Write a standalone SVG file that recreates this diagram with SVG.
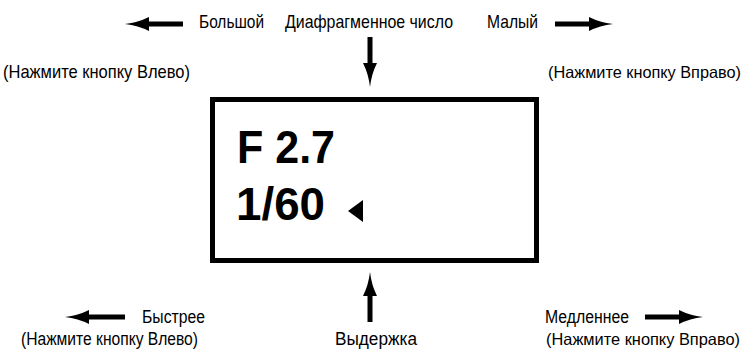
<svg xmlns="http://www.w3.org/2000/svg" width="745" height="351" viewBox="0 0 745 351">
  <style>
    .lbl { font-family: "Liberation Sans", Arial, sans-serif; font-size: 18.5px; fill: #000; }
    .lbl2 { font-family: "Liberation Sans", Arial, sans-serif; font-size: 17.5px; fill: #000; }
    .rt { font-family: "Liberation Sans", Arial, sans-serif; font-size: 16.5px; fill: #000; text-anchor: end; }
    .big { font-family: "Liberation Sans", Arial, sans-serif; font-size: 46px; font-weight: bold; fill: #000; }
    .arr { stroke: #000; stroke-width: 5; fill: none; marker-end: url(#head); }
  </style>
  <defs>
    <marker id="head" viewBox="0 0 24 14" markerUnits="userSpaceOnUse" markerWidth="24" markerHeight="14" refX="3" refY="7" orient="auto">
      <path d="M0,0 Q11,5.5 24,7 Q11,8.5 0,14 Z" fill="#000"/>
    </marker>
  </defs>
  <rect width="745" height="351" fill="#fff"/>

  <g id="connectors">
    <line class="arr" x1="183" y1="24" x2="146" y2="24"/>
    <line class="arr" x1="555" y1="24" x2="592" y2="24"/>
    <line class="arr" x1="370" y1="37" x2="370" y2="66"/>
    <line class="arr" x1="370" y1="322" x2="370" y2="293"/>
    <line class="arr" x1="125" y1="317" x2="86" y2="317"/>
    <line class="arr" x1="645" y1="317" x2="682" y2="317"/>
  </g>

  <g id="display">
    <rect x="212.5" y="99.5" width="324" height="161" fill="none" stroke="#000" stroke-width="5"/>
    <text class="big" x="237" y="163" textLength="98" lengthAdjust="spacingAndGlyphs">F 2.7</text>
    <text class="big" x="236" y="220" textLength="89" lengthAdjust="spacingAndGlyphs">1/60</text>
    <path d="M348,211 L363,200 L363,222 Z" fill="#000"/>
  </g>

  <g id="top-left">
    <text class="lbl" x="199" y="28" textLength="65" lengthAdjust="spacingAndGlyphs">Большой</text>
    <text class="lbl" x="3" y="78" textLength="187" lengthAdjust="spacingAndGlyphs">(Нажмите кнопку Влево)</text>
  </g>
  <g id="top-center">
    <text class="lbl" x="285" y="28" textLength="168" lengthAdjust="spacingAndGlyphs">Диафрагменное число</text>
  </g>
  <g id="top-right">
    <text class="lbl" x="487" y="28" textLength="51" lengthAdjust="spacingAndGlyphs">Малый</text>
    <text class="rt" x="741" y="78" textLength="193" lengthAdjust="spacingAndGlyphs">(Нажмите кнопку Вправо)</text>
  </g>
  <g id="bottom-left">
    <text class="lbl2" x="142" y="323" textLength="63" lengthAdjust="spacingAndGlyphs">Быстрее</text>
    <text class="lbl2" x="21" y="345" textLength="177" lengthAdjust="spacingAndGlyphs">(Нажмите кнопку Влево)</text>
  </g>
  <g id="bottom-center">
    <text class="lbl2" x="335" y="345" textLength="82" lengthAdjust="spacingAndGlyphs">Выдержка</text>
  </g>
  <g id="bottom-right">
    <text class="lbl2" x="545" y="323" textLength="84" lengthAdjust="spacingAndGlyphs">Медленнее</text>
    <text class="rt" x="740" y="345" textLength="194" lengthAdjust="spacingAndGlyphs">(Нажмите кнопку Вправо)</text>
  </g>
</svg>
